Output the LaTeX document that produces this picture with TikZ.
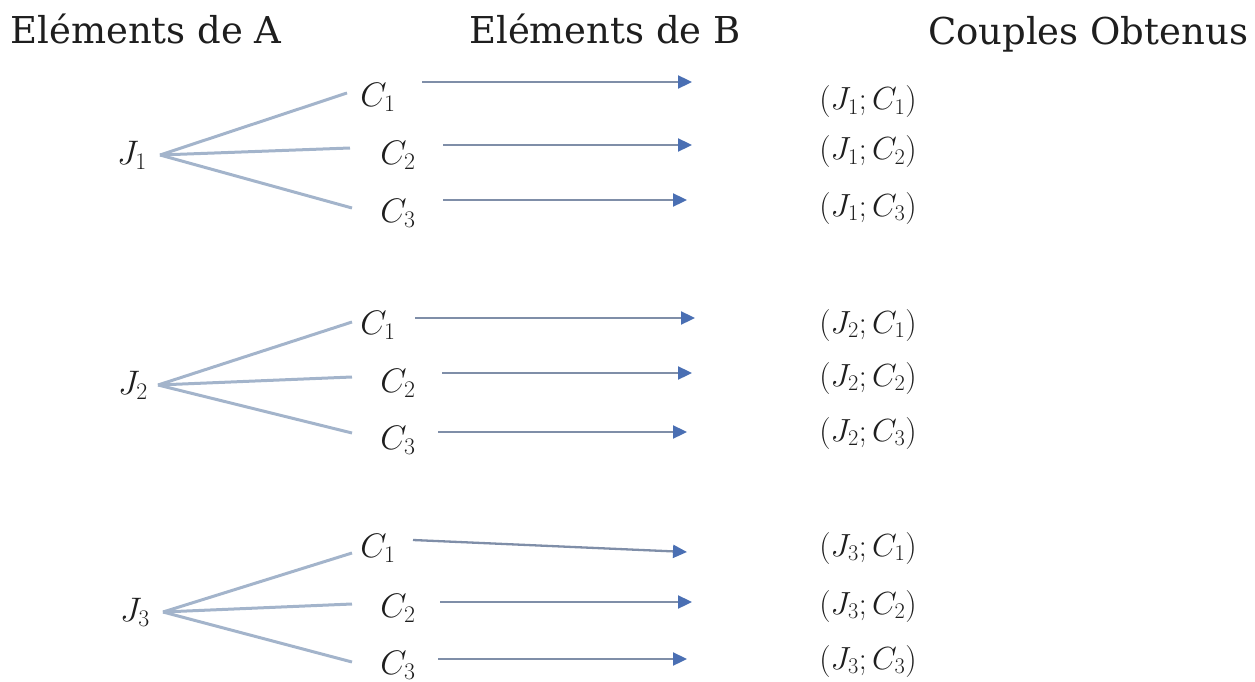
\RequirePackage{fix-cm}
\documentclass[tikz,border=0pt]{standalone}
\usepackage{fontspec}
\newfontfamily\headfont{DejaVu Serif}
\usetikzlibrary{arrows.meta}
\definecolor{treec}{HTML}{A3B4CB}
\definecolor{arrc}{HTML}{7F8EA8}
\definecolor{tipc}{HTML}{4A6FB3}
\definecolor{txt}{HTML}{1E1E1E}
\begin{document}
\begin{tikzpicture}[x=1pt,y=-1pt,
  head/.style={font=\headfont\fontsize{37}{40}\selectfont, text=txt, anchor=base, inner sep=0pt},
  elt/.style={font=\fontsize{34}{38}\selectfont, text=txt, inner sep=0pt},
  cpl/.style={font=\fontsize{32}{36}\selectfont, text=txt, inner sep=0pt},
  tree/.style={draw=treec, line width=3pt},
  arr/.style={draw=arrc, line width=2.3pt, -{Triangle[length=14pt,width=13pt,color=tipc]}}]
\useasboundingbox (0,0) rectangle (1255,682);

% headings
\node[head] (hA) at (146,44) {Eléments de A};
\node[head] (hB) at (605,44) {Eléments de B};
\node[head] (hC) at (1088,45) {Couples Obtenus};

% group 1
\node[elt] (J1) at (132,155) {$J_1$};
\node[elt] (C11) at (378,97) {$C_1$};
\node[elt] (C12) at (398,155) {$C_2$};
\node[elt] (C13) at (398,213) {$C_3$};
\coordinate (E11) at (692,82);
\coordinate (E12) at (692,145);
\coordinate (E13) at (687,200);
\node[cpl] (P11) at (868,102) {$(J_1;C_1)$};
\node[cpl] (P12) at (868,152) {$(J_1;C_2)$};
\node[cpl] (P13) at (868,208) {$(J_1;C_3)$};
\draw[tree] ([xshift=28pt]J1.center) -- ([xshift=-31pt,yshift=4pt]C11.center);
\draw[tree] ([xshift=28pt]J1.center) -- ([xshift=-48pt,yshift=7pt]C12.center);
\draw[tree] ([xshift=28pt]J1.center) -- ([xshift=-46pt,yshift=5pt]C13.center);
\draw[arr] ([xshift=44pt,yshift=15pt]C11.center) -- (E11);
\draw[arr] ([xshift=45pt,yshift=10pt]C12.center) -- (E12);
\draw[arr] ([xshift=45pt,yshift=13pt]C13.center) -- (E13);

% group 2
\node[elt] (J2) at (133,385) {$J_2$};
\node[elt] (C21) at (378,325) {$C_1$};
\node[elt] (C22) at (398,383) {$C_2$};
\node[elt] (C23) at (398,440) {$C_3$};
\coordinate (E21) at (695,318);
\coordinate (E22) at (692,373);
\coordinate (E23) at (687,432);
\node[cpl] (P21) at (868,325) {$(J_2;C_1)$};
\node[cpl] (P22) at (868,378) {$(J_2;C_2)$};
\node[cpl] (P23) at (868,433) {$(J_2;C_3)$};
\draw[tree] ([xshift=25pt]J2.center) -- ([xshift=-26pt,yshift=3pt]C21.center);
\draw[tree] ([xshift=25pt]J2.center) -- ([xshift=-46pt,yshift=6pt]C22.center);
\draw[tree] ([xshift=25pt]J2.center) -- ([xshift=-46pt,yshift=7pt]C23.center);
\draw[arr] ([xshift=37pt,yshift=7pt]C21.center) -- (E21);
\draw[arr] ([xshift=44pt,yshift=10pt]C22.center) -- (E22);
\draw[arr] ([xshift=40pt,yshift=8pt]C23.center) -- (E23);

% group 3
\node[elt] (J3) at (135,612) {$J_3$};
\node[elt] (C31) at (378,548) {$C_1$};
\node[elt] (C32) at (398,608) {$C_2$};
\node[elt] (C33) at (398,665) {$C_3$};
\coordinate (E31) at (687,552);
\coordinate (E32) at (692,602);
\coordinate (E33) at (687,659);
\node[cpl] (P31) at (868,548) {$(J_3;C_1)$};
\node[cpl] (P32) at (868,606) {$(J_3;C_2)$};
\node[cpl] (P33) at (868,661) {$(J_3;C_3)$};
\draw[tree] ([xshift=28pt]J3.center) -- ([xshift=-26pt,yshift=-5pt]C31.center);
\draw[tree] ([xshift=28pt]J3.center) -- ([xshift=-46pt,yshift=4pt]C32.center);
\draw[tree] ([xshift=28pt]J3.center) -- ([xshift=-46pt,yshift=3pt]C33.center);
\draw[arr] ([xshift=35pt,yshift=8pt]C31.center) -- (E31);
\draw[arr] ([xshift=42pt,yshift=6pt]C32.center) -- (E32);
\draw[arr] ([xshift=40pt,yshift=6pt]C33.center) -- (E33);
\end{tikzpicture}
\end{document}
